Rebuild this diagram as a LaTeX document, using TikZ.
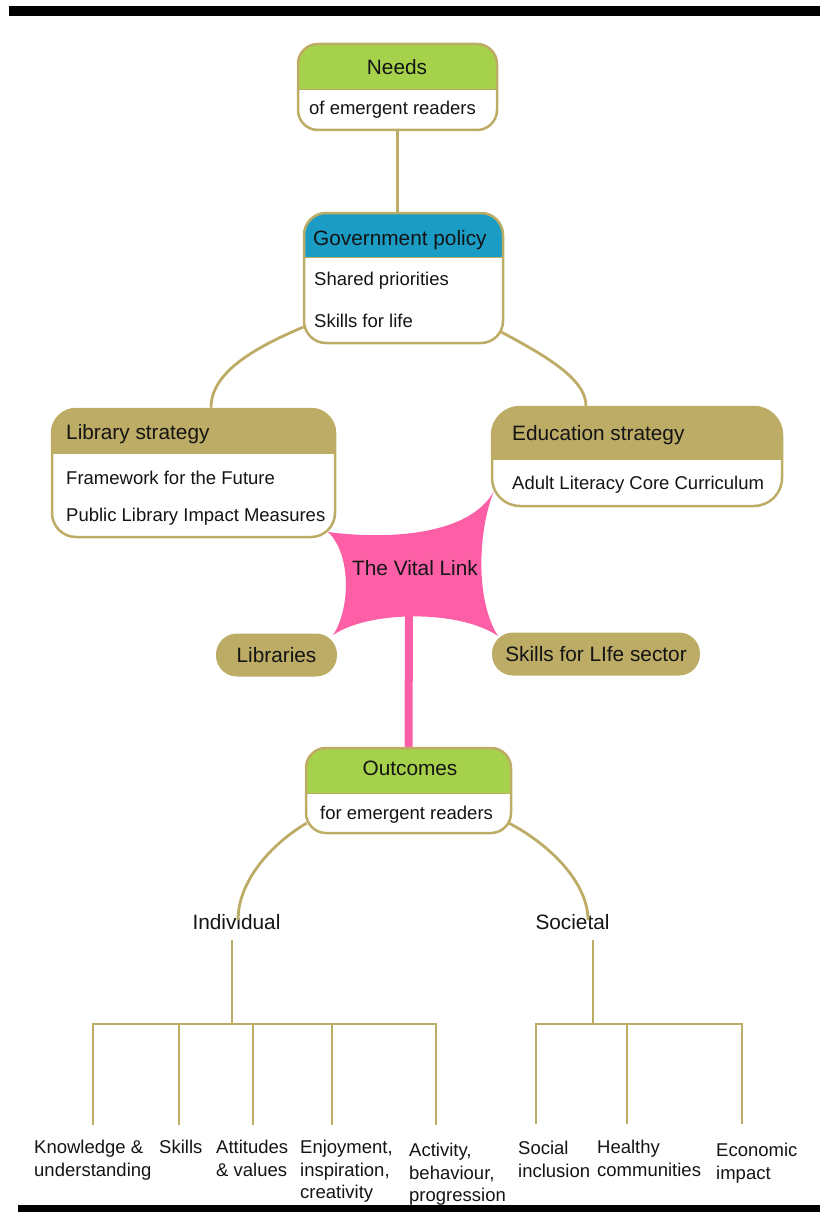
\documentclass[tikz,border=0pt]{standalone}
\usepackage{fontspec}
\setmainfont{Liberation Sans}
\definecolor{gold}{RGB}{189,172,102}
\definecolor{leaf}{RGB}{166,209,75}
\definecolor{sea}{RGB}{26,156,196}
\definecolor{rose}{RGB}{252,95,166}
\definecolor{ink}{RGB}{20,20,20}
\newcommand\hdfont{\fontsize{20.8}{25}\selectfont}
\newcommand\bdfont{\fontsize{18.5}{22.5}\selectfont}
\tikzset{
  hbox/.style n args={5}{draw=gold, line width=2.5pt, fill=white, rounded corners=#5,
    inner sep=0pt, minimum width=#1, minimum height=#2,
    path picture={\fill[#3, sharp corners] (path picture bounding box.north west) rectangle ([yshift=-#4]path picture bounding box.north east);
      \draw[gold, line width=1pt, sharp corners] ([yshift=-#4]path picture bounding box.north west) -- ([yshift=-#4]path picture bounding box.north east);}},
  htxt/.style={font=\hdfont, text=ink, inner sep=0pt, text height=0.75em, text depth=0.2em, yshift=-5pt},
  btxt/.style={font=\bdfont, text=ink, inner sep=0pt, text height=0.75em, text depth=0.2em, yshift=-5pt},
  leaftxt/.style={font=\bdfont, text=ink, inner sep=0pt, align=left, anchor=north west},
  pill/.style={fill=gold, rounded corners=21pt, inner sep=0pt, minimum height=43pt, font=\hdfont, text=ink},
  conn/.style={draw=gold, line width=2.8pt},
}
\begin{document}
\begin{tikzpicture}[x=1pt,y=-1pt]
\useasboundingbox (0,0) rectangle (820,1212);
\fill[black] (9,6) rectangle (820,16);
\fill[black] (18,1205) rectangle (820,1212);

% the vital link star
\coordinate (tl) at (328,532);
\coordinate (tr) at (494,491);
\coordinate (br) at (498,636);
\coordinate (bl) at (333,635);
\coordinate (starb) at (409,612);
\fill[rose] (tl) .. controls (390,540) and (470,535) .. (tr)
  .. controls (478,530) and (475,600) .. (br)
  .. controls (460,610) and (370,610) .. (bl)
  .. controls (350,610) and (352,555) .. cycle;

% boxes
\node[hbox={199pt}{86pt}{leaf}{46pt}{20pt}] (needs) at (397.5,87) {};
\node[hbox={199pt}{130pt}{sea}{44pt}{22pt}] (gov) at (403.5,278) {};
\node[hbox={283pt}{128pt}{gold}{44pt}{24pt}] (lib) at (193.5,473) {};
\node[hbox={290pt}{99pt}{gold}{52pt}{28pt}] (edu) at (637,456.5) {};
\node[hbox={205pt}{85pt}{leaf}{45pt}{20pt}] (out) at (408.5,790.5) {};

% box texts
\node[htxt] (needsh) at (397,67) {Needs};
\node[btxt, anchor=west] (needsb) at (309,107) {of emergent readers};
\node[htxt, anchor=west] (govh) at (313,238) {Government policy};
\node[btxt, anchor=west] (gov1) at (314,278) {Shared priorities};
\node[btxt, anchor=west] (gov2) at (314,320) {Skills for life};
\node[htxt, anchor=west] (libh) at (66,432) {Library strategy};
\node[btxt, anchor=west] (lib1) at (66,477) {Framework for the Future};
\node[btxt, anchor=west] (lib2) at (66,514) {Public Library Impact Measures};
\node[htxt, anchor=west] (eduh) at (512,433) {Education strategy};
\node[btxt, anchor=west] (edu1) at (512,482) {Adult Literacy Core Curriculum};
\node[htxt] (outh) at (410,768) {Outcomes};
\node[btxt, anchor=west] (outb) at (320,812) {for emergent readers};

\node[htxt] (vital) at (415,568) {The Vital Link};
\node[pill, minimum width=121pt] (libs) at (276.5,655) {Libraries};
\node[pill, minimum width=208pt] (sfl) at (596,654) {Skills for LIfe sector};

\node[htxt] (ind) at (236.5,922) {Individual};
\node[htxt] (soc) at (572.5,922) {Societal};

% connectors
\draw[conn] (needs.south) -- (needs.south |- gov.north);
\draw[conn] ([xshift=0.8pt,yshift=-49pt]gov.west) .. controls +(-55,23) and +(0,-33) .. ([xshift=17.5pt]lib.north);
\draw[conn] ([xshift=-3pt,yshift=-54pt]gov.east) .. controls +(43,23) and +(0,-27) .. ([xshift=-51pt]edu.north);
\draw[rose, line width=8pt] (starb) -- (out.north);
\draw[conn] ([xshift=2pt,yshift=-32.5pt]out.west) .. controls +(-37,22) and +(0,-38) .. ([xshift=1.5pt,yshift=2pt]ind.north);
\draw[conn] ([xshift=-3.5pt,yshift=-32.5pt]out.east) .. controls +(42,22) and +(0,-37) .. ([xshift=15.5pt,yshift=2pt]soc.north);

% outcome leaves
\node[leaftxt] (k) at (34,1140) {Knowledge \&\\understanding};
\node[leaftxt] (s) at (159,1140) {Skills};
\node[leaftxt] (a) at (216,1140) {Attitudes\\\& values};
\node[leaftxt] (e) at (300,1140) {Enjoyment,\\inspiration,\\creativity};
\node[leaftxt] (b) at (409,1143) {Activity,\\behaviour,\\progression};
\node[leaftxt] (si) at (518,1141) {Social\\inclusion};
\node[leaftxt] (hc) at (597,1140) {Healthy\\communities};
\node[leaftxt] (ei) at (716,1143) {Economic\\impact};

% individual tree
\coordinate (ibar) at (232,1024);
\coordinate (dk) at (93,1125);
\coordinate (ds) at (179,1125);
\coordinate (da) at (253,1125);
\coordinate (de) at (332,1125);
\coordinate (db) at (436,1125);
\draw[conn] ([yshift=-8pt]ind.south -| ibar) -- (ibar);
\draw[conn] (dk) -- (dk |- ibar) -- (db |- ibar) -- (db);
\draw[conn] (ds) -- (ds |- ibar);
\draw[conn] (da) -- (da |- ibar);
\draw[conn] (de) -- (de |- ibar);

% societal tree
\coordinate (sbar) at (593,1024);
\coordinate (dsi) at (536,1124);
\coordinate (dhc) at (627,1124);
\coordinate (dei) at (742,1124);
\draw[conn] ([yshift=-8pt]soc.south -| sbar) -- (sbar);
\draw[conn] (dsi) -- (dsi |- sbar) -- (dei |- sbar) -- (dei);
\draw[conn] (dhc) -- (dhc |- sbar);
\end{tikzpicture}
\end{document}
